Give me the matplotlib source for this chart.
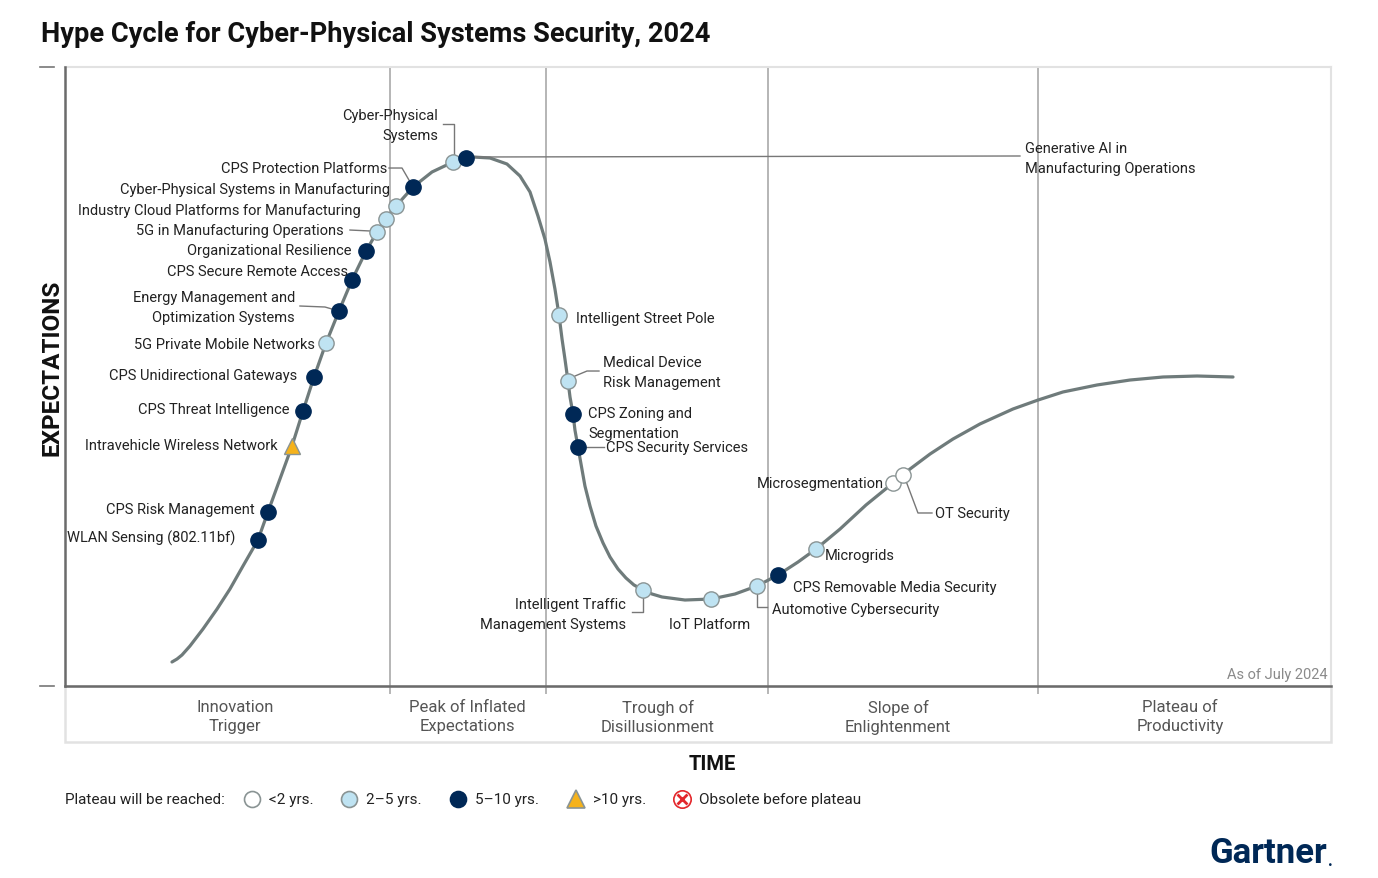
import matplotlib.pyplot as plt
from matplotlib.lines import Line2D
from matplotlib.patches import Rectangle
import matplotlib.transforms as mtransforms

plt.rcParams['font.family'] = ['Roboto', 'DejaVu Sans']

# hype curve (time 0-100, expectations 0-100)
curve_t = [8.45, 8.85, 9.24, 9.87, 10.90, 12.01, 13.03, 14.06, 15.24, 16.03,
           16.98, 17.93, 18.80, 19.67, 20.62, 21.64, 22.67, 23.78, 24.64, 25.36,
           26.15, 27.49, 28.99, 30.65, 31.67, 32.23, 33.57, 34.91, 35.94, 36.73,
           37.36, 37.91, 38.31, 38.70, 39.02, 39.26, 39.49, 39.73, 39.89, 40.13,
           40.28, 40.52, 40.76, 41.07, 41.47, 41.94, 42.50, 43.05, 43.68, 44.31,
           44.94, 45.66, 46.37, 47.16, 48.97, 51.03, 52.92, 54.66, 56.32, 57.90,
           59.32, 61.22, 63.27, 65.40, 66.75, 68.33, 70.14, 72.27, 74.88, 76.86,
           78.83, 81.52, 84.12, 86.73, 89.42, 92.26]
curve_e = [3.88, 4.36, 5.01, 6.46, 9.21, 12.44, 15.67, 19.39, 23.59, 28.11,
           33.44, 38.77, 44.43, 49.92, 55.41, 60.58, 65.59, 70.27, 73.34, 75.44,
           77.54, 80.61, 83.04, 84.65, 85.30, 85.46, 85.30, 84.33, 82.39, 79.81,
           75.93, 72.21, 68.50, 64.14, 59.94, 56.06, 52.83, 49.27, 46.69, 43.94,
           41.36, 38.61, 35.86, 32.31, 29.08, 25.85, 23.10, 20.84, 18.90, 17.45,
           16.32, 15.51, 14.86, 14.38, 13.89, 14.05, 14.86, 16.16, 17.93, 20.03,
           22.13, 25.36, 29.24, 32.79, 35.06, 37.48, 39.90, 42.33, 44.75, 46.20,
           47.50, 48.63, 49.43, 49.92, 50.08, 49.92]

names = ["Cyber-Physical\nSystems", "Generative AI in\nManufacturing Operations",
         "CPS Protection Platforms", "Cyber-Physical Systems in Manufacturing",
         "Industry Cloud Platforms for Manufacturing", "5G in Manufacturing Operations",
         "Organizational Resilience", "CPS Secure Remote Access",
         "Energy Management and\nOptimization Systems", "5G Private Mobile Networks",
         "CPS Unidirectional Gateways", "CPS Threat Intelligence",
         "Intravehicle Wireless Network", "CPS Risk Management",
         "WLAN Sensing (802.11bf)", "Intelligent Street Pole",
         "Medical Device\nRisk Management", "CPS Zoning and\nSegmentation",
         "CPS Security Services", "Intelligent Traffic\nManagement Systems",
         "IoT Platform", "Automotive Cybersecurity", "CPS Removable Media Security",
         "Microgrids", "Microsegmentation", "OT Security"]
tech_t = [30.65, 31.67, 27.49, 26.15, 25.36, 24.64, 23.78, 22.67, 21.64, 20.62,
          19.67, 18.80, 17.93, 16.03, 15.24, 39.02, 39.73, 40.13, 40.52, 45.66,
          51.03, 54.66, 56.32, 59.32, 65.40, 66.19]
tech_e = [84.65, 85.30, 80.61, 77.54, 75.44, 73.34, 70.27, 65.59, 60.58, 55.41,
          49.92, 44.43, 38.77, 28.11, 23.59, 59.94, 49.27, 43.94, 38.61, 15.51,
          14.05, 16.16, 17.93, 22.13, 32.79, 34.09]
tech_cat = ["2-5", "5-10", "5-10", "2-5", "2-5", "2-5", "5-10", "5-10", "5-10", "2-5",
            "5-10", "5-10", ">10", "5-10", "5-10", "2-5", "2-5", "5-10", "5-10", "2-5",
            "2-5", "2-5", "5-10", "2-5", "<2", "<2"]

phase_names = ["Innovation\nTrigger", "Peak of Inflated\nExpectations",
               "Trough of\nDisillusionment", "Slope of\nEnlightenment",
               "Plateau of\nProductivity"]
phase_bounds = [25.67, 37.99, 55.53, 76.86]
phase_centers = [13.43, 31.75, 46.84, 65.80, 88.07]

legend_labels = ["<2 yrs.", "2\u20135 yrs.", "5\u201310 yrs.", ">10 yrs.",
                 "Obsolete before plateau"]

# label offsets in pixels (dx right, dy down), alignment, leader line points
layout = [
    (-15, -37, "right", [(1, -7), (1, -38), (-10, -38)]),
    (559, 0, "left", [(8, -1), (554, -2)]),
    (-26, -19, "right", [(-24, -19), (-11, -19), (0, 0)]),
    (-6, -17, "right", None),
    (-25, -9, "right", None),
    (-33, -2, "right", [(-27, -2), (-6, -1)]),
    (-15, -1, "right", None),
    (-4, -9, "right", None),
    (-44, -4, "right", [(-39, -5), (-14, -4), (0, 0)]),
    (-11, 1, "right", None),
    (-17, -2, "right", None),
    (-14, -2, "right", None),
    (-14, -1, "right", None),
    (-13, -3, "right", None),
    (-23, -3, "right", None),
    (17, 3, "left", None),
    (35, -9, "left", [(7, -5), (19, -10), (31, -10)]),
    (15, 9, "left", None),
    (28, 0, "left", [(7, 0), (26, 0)]),
    (-17, 24, "right", [(0, 8), (0, 22), (-11, 22)]),
    (-1, 25, "center", None),
    (15, 23, "left", [(0, 8), (0, 21), (10, 21)]),
    (15, 12, "left", None),
    (9, 6, "left", None),
    (-9, 0, "right", None),
    (32, 38, "left", [(3, 6), (15, 38), (29, 38)]),
]

styles = {
    "<2": dict(marker="o", mfc="white", mec="#8a9494", ms=11),
    "2-5": dict(marker="o", mfc="#bfe3f2", mec="#8a9494", ms=11),
    "5-10": dict(marker="o", mfc="#002856", mec="#002856", ms=11),
    ">10": dict(marker="^", mfc="#f5b21b", mec="#8a9494", ms=12),
}

W, H = 1378, 879
fig = plt.figure(figsize=(W / 100, H / 100), dpi=100)
ax = fig.add_axes([65 / W, (H - 687) / H, (1331 - 65) / W, (687 - 68) / H])
ax.set_xlim(0, 100)
ax.set_ylim(0, 100)
ax.set_xticks([])
ax.set_yticks([])
for s in ["top", "right"]:
    ax.spines[s].set_color("#e2e2e2")
    ax.spines[s].set_linewidth(1.5)
for s in ["left", "bottom"]:
    ax.spines[s].set_color("#6b6b6b")
    ax.spines[s].set_linewidth(1.8)
    ax.spines[s].set_zorder(5)

# phase box below the plot
box_h = (743 - 687) / 619
ax.add_patch(Rectangle((0, -box_h), 1, box_h, transform=ax.transAxes,
                       fill=False, ec="#e2e2e2", lw=1.8, clip_on=False))
blend = mtransforms.blended_transform_factory(ax.transData, ax.transAxes)
for b in phase_bounds:
    ax.plot([b, b], [0, 1], color="#b5b5b5", lw=1.4, transform=blend, zorder=1)
    ax.plot([b, b], [-0.012, 0], color="#b5b5b5", lw=1.4, transform=blend,
            clip_on=False, zorder=1)
for c, n in zip(phase_centers, phase_names):
    ax.text(c, -0.049, n, transform=blend, ha="center", va="center",
            fontsize=12, color="#555555", linespacing=1.35)

ax.plot(curve_t, curve_e, color="#6f7b7b", lw=2.3, zorder=2,
        solid_capstyle="round", solid_joinstyle="round")


def offset_pts(t, e, pts):
    x0, y0 = ax.transData.transform((t, e))
    inv = ax.transData.inverted()
    out = [inv.transform((x0 + dx, y0 - dy)) for dx, dy in pts]
    return [p[0] for p in out], [p[1] for p in out]


for n, t, e, cat, (dx, dy, ha, path) in zip(names, tech_t, tech_e, tech_cat, layout):
    if path:
        xs, ys = offset_pts(t, e, path)
        ax.plot(xs, ys, color="#777777", lw=1.0, zorder=3, clip_on=False)
    ax.plot([t], [e], linestyle="none", mew=1.0, zorder=4, **styles[cat])
    ax.annotate(n, (t, e), xytext=(dx, -dy), textcoords="offset pixels",
                ha=ha, va="center", fontsize=10.5, color="#222222",
                linespacing=1.5, multialignment=ha, zorder=6)

ax.text(0.997, 0.02, "As of July 2024", transform=ax.transAxes, ha="right",
        va="center", fontsize=10.5, color="#8a8a8a")

# small end marks on the left
for yy in [68, 687]:
    fig.add_artist(Line2D([40 / W, 54 / W], [1 - yy / H, 1 - yy / H],
                          color="#777777", lw=1.2))

fig.text(41 / W, 1 - 35 / H, "Hype Cycle for Cyber-Physical Systems Security, 2024",
         fontsize=19.6, fontweight="bold", va="center", ha="left", color="#111111")
fig.text(52 / W, 1 - 368 / H, "EXPECTATIONS", rotation=90, fontsize=17.5,
         fontweight="bold", va="center", ha="center", color="#111111")
fig.text(712 / W, 1 - 765 / H, "TIME", fontsize=14.5, fontweight="bold",
         va="center", ha="center", color="#111111")

# legend row
ly = 1 - 800 / H
fig.text(65 / W, ly, "Plateau will be reached:", fontsize=11, va="center",
         color="#222222")
leg_x = [252, 349, 458, 576, 682]
leg_styles = [styles["<2"], styles["2-5"], styles["5-10"], styles[">10"],
              dict(marker="o", mfc="white", mec="#e3262b", ms=12)]
for x, st, lab in zip(leg_x, leg_styles, legend_labels):
    st = dict(st)
    st["ms"] = st["ms"] + 0.5
    fig.add_artist(Line2D([x / W], [ly], transform=fig.transFigure,
                          linestyle="none", mew=1.2, **st))
    fig.text((x + 17) / W, ly, lab, fontsize=11, va="center", color="#222222")
fig.add_artist(Line2D([682 / W], [ly], transform=fig.transFigure, linestyle="none",
                      marker="x", ms=6.5, mew=2.0, color="#e3262b"))

fig.text(1327 / W, 1 - 854 / H, "Gartner", fontsize=25, fontweight="bold",
         color="#002856", ha="right", va="center")
fig.text(1328 / W, 1 - 862 / H, ".", fontsize=12, fontweight="bold",
         color="#002856", ha="left", va="center")

fig.savefig("out.png", dpi=100)
